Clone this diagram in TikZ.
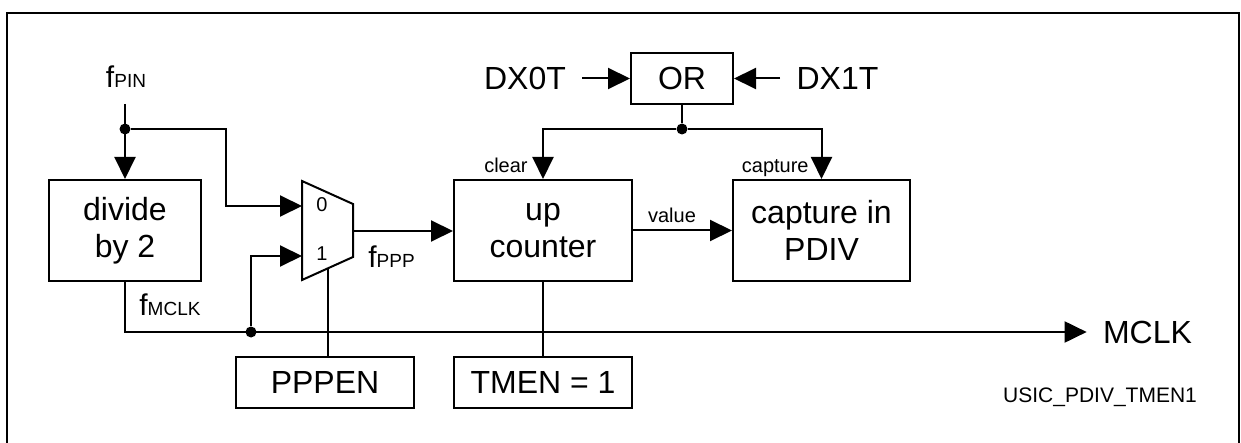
\documentclass[tikz,border=0pt]{standalone}
\usepackage{fontspec}
\setmainfont{Liberation Sans}
\usetikzlibrary{arrows.meta,positioning}
\newcommand\freqsig[1]{{\fontsize{15}{17}\selectfont f}{\fontsize{9.5}{11}\selectfont #1}}

\begin{document}
\begin{tikzpicture}[x=0.5pt,y=-0.5pt]
\tikzset{
  blockbox/.style={draw,line width=1pt,inner sep=0pt,align=center,font=\fontsize{16}{18.5}\selectfont},
  siglabel/.style={inner sep=0pt,font=\fontsize{16}{18.5}\selectfont},
  portlabel/.style={inner sep=0pt,font=\fontsize{10}{12}\selectfont},
  junction/.style={circle,fill,inner sep=0pt,minimum size=5.5pt},
  directed/.style={-{Triangle[length=11pt,width=10.5pt]},line width=1pt},
  undirected/.style={line width=1pt}
}
\useasboundingbox (0,0) rectangle (1241,443);
\draw[undirected] (7,443) -- (7,13) -- (1239,13) -- (1239,443);
\node[blockbox,minimum width=76pt,minimum height=50.5pt] (n_divide) at (125,230.5) {divide\\by 2};
\node[blockbox,minimum width=89pt,minimum height=50.5pt] (n_counter) at (543,230.5) {up\\counter};
\node[blockbox,minimum width=88.5pt,minimum height=50.5pt] (n_capture) at (821.5,230.5) {capture in\\PDIV};
\node[blockbox,minimum width=51pt,minimum height=25.5pt] (n_or) at (682,78.5) {OR};
\node[blockbox,minimum width=89pt,minimum height=25.5pt] (n_pppen) at (325,382.5) {PPPEN};
\node[blockbox,minimum width=89pt,minimum height=25.5pt] (n_tmen) at (543,382.5) {TMEN = 1};
\node[siglabel,inner xsep=8pt] (n_dx0t) at (525,78.5) {DX0T};
\node[siglabel,inner xsep=8pt] (n_dx1t) at (837.5,78.5) {DX1T};
\node[siglabel,inner xsep=8pt] (n_mclk) at (1147.5,332) {MCLK};
\node[inner sep=0pt,anchor=base] (n_fpin) at (126,88) {\freqsig{PIN}};
\node[inner sep=0pt,anchor=base west] (n_fmclk) at (139,315) {\freqsig{MCLK}};
\node[inner sep=0pt,anchor=base west] (n_fppp) at (368,267) {\freqsig{PPP}};
\node[portlabel,anchor=base east] (n_clear) at (528,173) {clear};
\node[portlabel,anchor=base east] (n_capt) at (809,173) {capture};
\node[portlabel,anchor=base] (n_value) at (672,223) {value};
\node[portlabel,anchor=base] (n_in0) at (322,212) {0};
\node[portlabel,anchor=base] (n_in1) at (322,261) {1};
\node[inner sep=0pt,anchor=base,font=\fontsize{10.5}{12}\selectfont] (n_figid) at (1100,402) {USIC\_PDIV\_TMEN1};
\node[junction] (n_j1) at (125,129) {};
\node[junction] (n_j2) at (251,332) {};
\node[junction] (n_j3) at (682,129) {};
\coordinate (c_pin) at (125,104);
\coordinate (c_mux0) at (302,206);
\coordinate (c_mux1) at (302,256);
\coordinate (c_muxout) at (353,231);
\coordinate (c_muxsel) at (328,268);
\draw[undirected,line join=miter] (302,181) -- (353,204) -- (353,257) -- (302,280) -- cycle;
\draw[directed] (c_pin) -- (n_divide.north);
\draw[directed] (n_j1) -- (226,129) -- (226,206) -- (c_mux0);
\draw[directed] (n_divide.south) -- (125,332) -- (n_mclk.west);
\draw[directed] (n_j2) -- (251,256) -- (c_mux1);
\draw[undirected] (c_muxsel) -- (c_muxsel |- n_pppen.north);
\draw[directed] (c_muxout) -- (c_muxout -| n_counter.west);
\draw[undirected] (n_counter) -- (n_tmen);
\draw[directed] (n_counter.east) -- (n_capture.west);
\draw[directed] (n_dx0t) -- (n_or);
\draw[directed] (n_dx1t) -- (n_or);
\draw[undirected] (n_or) -- (n_j3);
\draw[directed] (n_j3) -| (n_counter.north);
\draw[directed] (n_j3) -| (n_capture.north);
\end{tikzpicture}
\end{document}
